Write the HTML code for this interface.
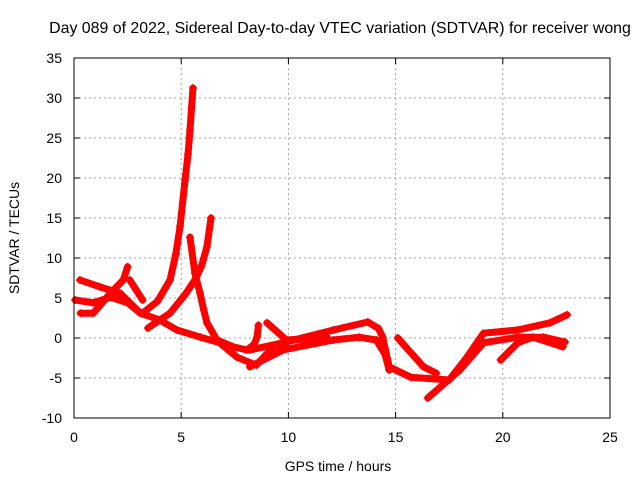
<!DOCTYPE html>
<html><head><meta charset="utf-8"><style>
body{margin:0;background:#fff;}
svg text{font-family:"Liberation Sans",sans-serif;font-size:14px;fill:#000;}
</style></head><body>
<svg id="chart" width="640" height="480" xmlns="http://www.w3.org/2000/svg">
<text x="340" y="33" text-anchor="middle" style="font-size:15.9px">Day 089 of 2022, Sidereal Day-to-day VTEC variation (SDTVAR) for receiver wong</text>
<text x="338" y="471" text-anchor="middle">GPS time / hours</text>
<text transform="translate(19,238) rotate(-90)" text-anchor="middle">SDTVAR / TECUs</text>
<g id="grid"></g><g id="ticks"></g><g id="series"></g>
<rect x="74" y="58" width="536" height="360" fill="none" stroke="#000" stroke-width="1"/>
</svg>
<script>
const xTicks=[0,5,10,15,20,25];
const yTicks=[-10,-5,0,5,10,15,20,25,30,35];
const trackA=[[3.2,3.1],[3.9,4.6],[4.48,7.25],[4.75,10.5],[4.95,14],[5.18,19.75],[5.32,23],[5.41,26],[5.55,31.25]];
const trackB=[[3.45,1.25],[4.48,3.1],[5.2,5.5],[5.64,7.25],[5.95,9],[6.2,11.4],[6.39,15]];
const trackC=[[5.41,12.6],[5.64,8.1],[5.88,5.6],[6.05,3.5],[6.2,1.9],[6.67,-0.25],[7.42,-1.1],[8.07,-1.5],[8.4,-0.8],[8.54,0.1],[8.6,1.6]];
const trackD=[[0.05,4.75],[0.9,4.4],[1.7,5.1],[2.5,4.4],[3.1,3.1],[4.0,2.25],[4.8,1.0],[5.9,0.1],[6.8,-0.6],[7.6,-2.4],[8.5,-3.4],[9.3,-1.1],[10.2,-0.25],[11.8,0.1]];
const trackE=[[0.28,7.25],[1.2,6.4],[2.15,5.6],[3.1,3.1]];
const trackE2=[[2.5,8.9],[2.3,7.25],[1.7,5.6],[0.9,3.1],[0.3,3.1]];
const trackE3=[[2.6,7.25],[3.2,4.75]];
const trackF=[[9.0,1.9],[9.9,-0.25],[11.8,0.1]];
const trackG=[[8.2,-1.5],[9.75,-0.6],[12.1,1.0],[13.7,2.0],[14.2,1.2],[14.4,0.1],[14.7,-3.6],[15.7,-4.9],[17.5,-5.25],[18.3,-2.5],[19.1,0.6],[20.7,1.0],[22.2,1.9],[23.0,2.9]];
const trackH=[[8.2,-3.6],[9.75,-1.5],[12.1,-0.25],[13.3,0.1],[14.1,-0.25],[14.5,-2],[14.7,-4.0]];
const trackJ=[[15.1,0],[16.3,-3.6],[16.9,-4.4]];
const trackK=[[16.5,-7.5],[18.0,-4.0],[19.1,-0.6],[20.7,0.1],[21.9,0.1],[22.9,-0.5]];
const trackL=[[19.9,-2.75],[20.7,-0.6],[21.4,0.1],[22.8,-1.1]];
const tracks=[trackA,trackB,trackC,trackD,trackE,trackE2,trackE3,trackF,trackG,trackH,trackJ,trackK,trackL];
const NS="http://www.w3.org/2000/svg";
const X=v=>74+v*536/25, Y=v=>418-(v+10)*8;
function mk(tag,attrs,parent){const e=document.createElementNS(NS,tag);for(const k in attrs)e.setAttribute(k,attrs[k]);parent.appendChild(e);return e;}
const grid=document.getElementById('grid'),ticks=document.getElementById('ticks'),ser=document.getElementById('series');
xTicks.forEach(t=>{
 if(t>0&&t<25){const g=mk('line',{x1:X(t),x2:X(t),y1:58,y2:418,stroke:'#a0a0a0','stroke-dasharray':'2,3'},grid);
 
 }
 mk('line',{x1:X(t),x2:X(t),y1:418,y2:412,stroke:'#000'},ticks);
 mk('line',{x1:X(t),x2:X(t),y1:58,y2:64,stroke:'#000'},ticks);
 const l=mk('text',{x:X(t),y:442,'text-anchor':'middle'},ticks);l.textContent=t;
 
 
});
yTicks.forEach(t=>{
 if(t>-10&&t<35){const g=mk('line',{x1:74,x2:610,y1:Y(t),y2:Y(t),stroke:'#a0a0a0','stroke-dasharray':'2,3'},grid);
 
 }
 mk('line',{x1:74,x2:80,y1:Y(t),y2:Y(t),stroke:'#000'},ticks);
 mk('line',{x1:610,x2:604,y1:Y(t),y2:Y(t),stroke:'#000'},ticks);
 const l=mk('text',{x:62,y:Y(t)+5,'text-anchor':'end'},ticks);l.textContent=t;
 
 
});
tracks.forEach((tr,i)=>{
 const p=mk('polyline',{points:tr.map(d=>X(d[0])+','+Y(d[1])).join(' '),fill:'none',stroke:'#f00','stroke-width':7,'stroke-linejoin':'round','stroke-linecap':'round'},ser);
 
 
 tr.forEach(d=>{
  const m=mk('path',{d:`M${X(d[0])-4},${Y(d[1])}h8M${X(d[0])},${Y(d[1])-4}v8`,stroke:'#f00','stroke-width':1.2},ser);
  
  
 });
});
</script>
</body></html>
